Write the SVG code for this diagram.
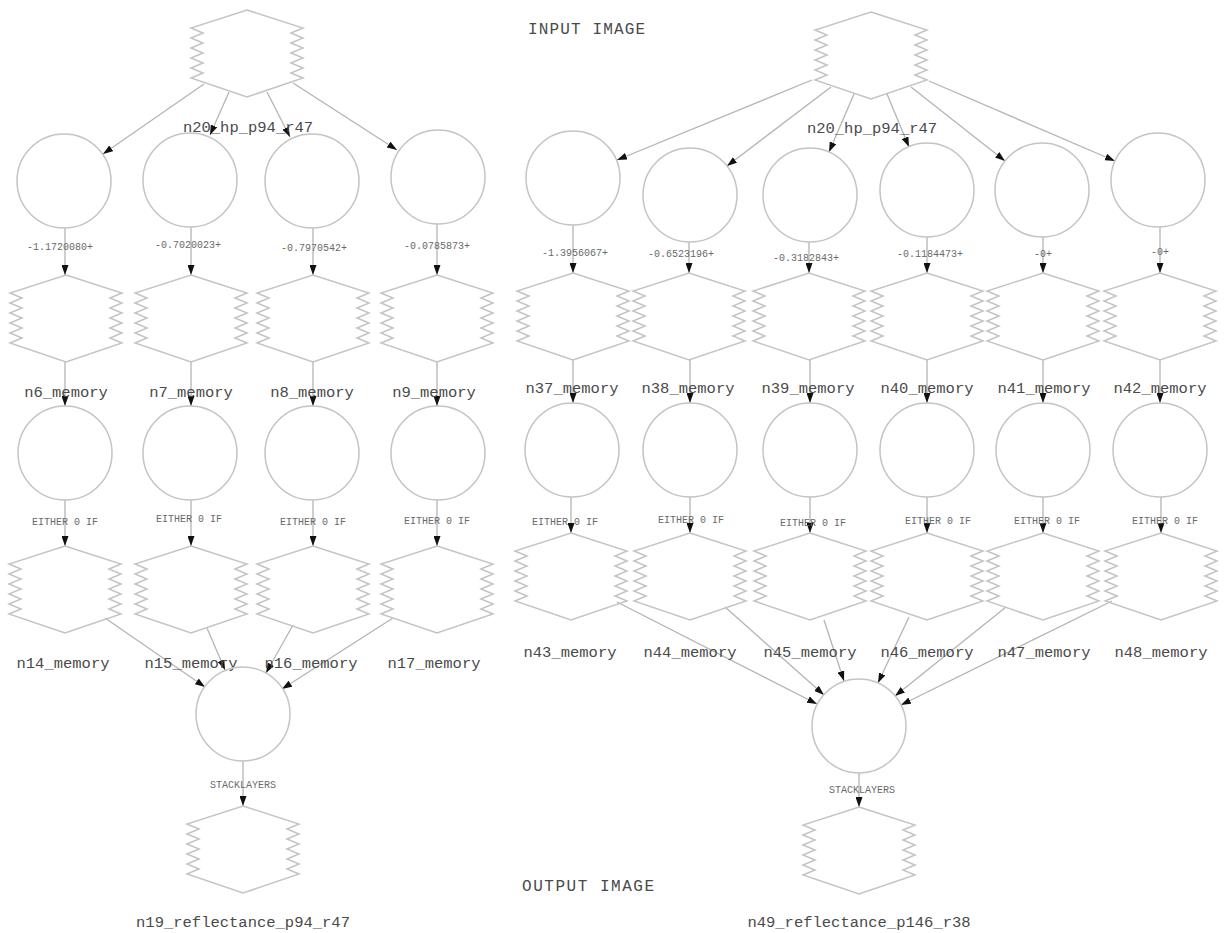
<svg xmlns="http://www.w3.org/2000/svg" xmlns:xlink="http://www.w3.org/1999/xlink" width="1225" height="933" viewBox="0 0 1225 933">
  <style>
    .shape { fill: none; stroke: #c4c4c4; stroke-width: 1.5; }
    .edge { fill: none; stroke: #b4b4b4; stroke-width: 1.3; marker-end: url(#arrow); }
    .lbl { font-family: "Liberation Mono", "Courier New", monospace; font-size: 15.5px; fill: #4a4a4a; text-anchor: middle; }
    .elbl { font-family: "Liberation Mono", "Courier New", monospace; font-size: 10px; fill: #6a6a6a; text-anchor: middle; }
    .title { font-family: "Liberation Mono", "Courier New", monospace; font-size: 16px; fill: #4a4a4a; }
  </style>
  <defs>
    <marker id="arrow" viewBox="0 0 10 7" refX="10" refY="3.5" markerWidth="10" markerHeight="7" markerUnits="userSpaceOnUse" orient="auto">
      <path d="M0,0 L10,3.5 L0,7 z" fill="#111"/>
    </marker>
    <!-- data node: hexagon with zigzag flanks, origin at the top apex -->
    <path id="hex" class="shape" d="M0,0 L56,18 L44,23 L56,28 L44,33 L56,38 L44,43 L56,48 L44,53 L56,58 L44,63 L56,68 L0,87 L-56,68 L-44,63 L-56,58 L-44,53 L-56,48 L-44,43 L-56,38 L-44,33 L-56,28 L-44,23 L-56,18 Z"/>
  </defs>
  <rect width="1225" height="933" fill="#fff"/>

  <text class="title" x="528" y="34" textLength="117" lengthAdjust="spacing">INPUT IMAGE</text>
  <text class="title" x="522" y="891" textLength="132" lengthAdjust="spacing">OUTPUT IMAGE</text>

  <!-- connectors -->
  <g id="connectors">
    <!-- left graph: input fan-out -->
    <line class="edge" x1="204" y1="84" x2="103" y2="154"/>
    <line class="edge" x1="229" y1="92" x2="210" y2="135"/>
    <line class="edge" x1="267" y1="92" x2="290" y2="137"/>
    <line class="edge" x1="293" y1="83" x2="397" y2="150"/>
    <!-- left graph: columns -->
    <line class="edge" x1="65" y1="228" x2="65" y2="275"/>
    <line class="edge" x1="191" y1="227" x2="191" y2="275"/>
    <line class="edge" x1="313" y1="228" x2="313" y2="275"/>
    <line class="edge" x1="437" y1="224" x2="437" y2="275"/>
    <line class="edge" x1="65" y1="362" x2="65" y2="406"/>
    <line class="edge" x1="191" y1="362" x2="191" y2="406"/>
    <line class="edge" x1="313" y1="362" x2="313" y2="406"/>
    <line class="edge" x1="437" y1="362" x2="437" y2="406"/>
    <line class="edge" x1="65" y1="500" x2="65" y2="546"/>
    <line class="edge" x1="191" y1="500" x2="191" y2="546"/>
    <line class="edge" x1="313" y1="500" x2="313" y2="546"/>
    <line class="edge" x1="437" y1="500" x2="437" y2="546"/>
    <!-- left graph: fan-in -->
    <line class="edge" x1="105" y1="618" x2="205" y2="687"/>
    <line class="edge" x1="207" y1="628" x2="225" y2="670"/>
    <line class="edge" x1="293" y1="625" x2="266" y2="673"/>
    <line class="edge" x1="393" y1="618" x2="282" y2="689"/>
    <line class="edge" x1="243" y1="761" x2="243" y2="806"/>

    <!-- right graph: input fan-out -->
    <line class="edge" x1="812" y1="80" x2="617" y2="160"/>
    <line class="edge" x1="831" y1="87" x2="727" y2="166"/>
    <line class="edge" x1="854" y1="94" x2="829" y2="152"/>
    <line class="edge" x1="887" y1="94" x2="909" y2="147"/>
    <line class="edge" x1="911" y1="87" x2="1005" y2="161"/>
    <line class="edge" x1="929" y1="81" x2="1115" y2="161"/>
    <!-- right graph: columns -->
    <line class="edge" x1="573" y1="225" x2="573" y2="273"/>
    <line class="edge" x1="689" y1="242" x2="689" y2="273"/>
    <line class="edge" x1="809" y1="242" x2="809" y2="273"/>
    <line class="edge" x1="927" y1="237" x2="927" y2="273"/>
    <line class="edge" x1="1043" y1="237" x2="1043" y2="273"/>
    <line class="edge" x1="1160" y1="227" x2="1160" y2="273"/>
    <line class="edge" x1="573" y1="360" x2="573" y2="403"/>
    <line class="edge" x1="690" y1="360" x2="690" y2="403"/>
    <line class="edge" x1="810" y1="360" x2="810" y2="403"/>
    <line class="edge" x1="927" y1="360" x2="927" y2="403"/>
    <line class="edge" x1="1043" y1="360" x2="1043" y2="403"/>
    <line class="edge" x1="1160" y1="360" x2="1160" y2="403"/>
    <line class="edge" x1="571" y1="497" x2="571" y2="533"/>
    <line class="edge" x1="690" y1="497" x2="690" y2="533"/>
    <line class="edge" x1="810" y1="497" x2="810" y2="533"/>
    <line class="edge" x1="927" y1="497" x2="927" y2="533"/>
    <line class="edge" x1="1043" y1="497" x2="1043" y2="533"/>
    <line class="edge" x1="1161" y1="497" x2="1161" y2="533"/>
    <!-- right graph: fan-in -->
    <line class="edge" x1="617" y1="602" x2="817" y2="704"/>
    <line class="edge" x1="725" y1="607" x2="824" y2="695"/>
    <line class="edge" x1="824" y1="620" x2="844" y2="681"/>
    <line class="edge" x1="909" y1="617" x2="878" y2="683"/>
    <line class="edge" x1="1006" y1="607" x2="895" y2="696"/>
    <line class="edge" x1="1112" y1="601" x2="901" y2="705"/>
    <line class="edge" x1="859" y1="773" x2="859" y2="807"/>
  </g>

  <!-- edge labels -->
  <g id="edge-labels">
    <text class="elbl" x="60" y="250">-1.1720080+</text>
    <text class="elbl" x="188" y="248">-0.7020023+</text>
    <text class="elbl" x="314" y="251">-0.7970542+</text>
    <text class="elbl" x="437" y="249">-0.0785873+</text>
    <text class="elbl" x="65" y="525">EITHER 0 IF</text>
    <text class="elbl" x="189" y="522">EITHER 0 IF</text>
    <text class="elbl" x="313" y="525">EITHER 0 IF</text>
    <text class="elbl" x="437" y="524">EITHER 0 IF</text>
    <text class="elbl" x="243" y="788">STACKLAYERS</text>

    <text class="elbl" x="575" y="256">-1.3956067+</text>
    <text class="elbl" x="681" y="257">-0.6523196+</text>
    <text class="elbl" x="806" y="261">-0.3182843+</text>
    <text class="elbl" x="930" y="257">-0.1184473+</text>
    <text class="elbl" x="1043" y="257">-0+</text>
    <text class="elbl" x="1160" y="255">-0+</text>
    <text class="elbl" x="565" y="525">EITHER 0 IF</text>
    <text class="elbl" x="691" y="523">EITHER 0 IF</text>
    <text class="elbl" x="813" y="526">EITHER 0 IF</text>
    <text class="elbl" x="938" y="524">EITHER 0 IF</text>
    <text class="elbl" x="1047" y="524">EITHER 0 IF</text>
    <text class="elbl" x="1165" y="524">EITHER 0 IF</text>
    <text class="elbl" x="862" y="793">STACKLAYERS</text>
  </g>

  <!-- left graph nodes -->
  <g id="n20_left"><use xlink:href="#hex" x="247" y="10"/><text class="lbl" x="248" y="132">n20_hp_p94_r47</text></g>
  <g id="c_l1"><circle class="shape" cx="64" cy="181" r="47"/></g>
  <g id="c_l2"><circle class="shape" cx="190" cy="180" r="47"/></g>
  <g id="c_l3"><circle class="shape" cx="312" cy="181" r="47"/></g>
  <g id="c_l4"><circle class="shape" cx="438" cy="177" r="47"/></g>
  <g id="n6_memory"><use xlink:href="#hex" x="66" y="275"/><text class="lbl" x="66" y="397">n6_memory</text></g>
  <g id="n7_memory"><use xlink:href="#hex" x="191" y="275"/><text class="lbl" x="191" y="397">n7_memory</text></g>
  <g id="n8_memory"><use xlink:href="#hex" x="313" y="275"/><text class="lbl" x="312" y="397">n8_memory</text></g>
  <g id="n9_memory"><use xlink:href="#hex" x="437" y="275"/><text class="lbl" x="434" y="397">n9_memory</text></g>
  <g id="c_l5"><circle class="shape" cx="65" cy="453" r="47"/></g>
  <g id="c_l6"><circle class="shape" cx="190" cy="453" r="47"/></g>
  <g id="c_l7"><circle class="shape" cx="312" cy="453" r="47"/></g>
  <g id="c_l8"><circle class="shape" cx="438" cy="453" r="47"/></g>
  <g id="n14_memory"><use xlink:href="#hex" x="65" y="546"/><text class="lbl" x="63" y="668">n14_memory</text></g>
  <g id="n15_memory"><use xlink:href="#hex" x="191" y="546"/><text class="lbl" x="191" y="668">n15_memory</text></g>
  <g id="n16_memory"><use xlink:href="#hex" x="313" y="546"/><text class="lbl" x="311" y="668">n16_memory</text></g>
  <g id="n17_memory"><use xlink:href="#hex" x="437" y="546"/><text class="lbl" x="434" y="668">n17_memory</text></g>
  <g id="c_l9"><circle class="shape" cx="243" cy="714" r="47"/></g>
  <g id="n19_reflectance"><use xlink:href="#hex" x="243" y="806"/><text class="lbl" x="243" y="927">n19_reflectance_p94_r47</text></g>

  <!-- right graph nodes -->
  <g id="n20_right"><use xlink:href="#hex" x="871" y="12"/><text class="lbl" x="872" y="133">n20_hp_p94_r47</text></g>
  <g id="c_r1"><circle class="shape" cx="573" cy="178" r="47"/></g>
  <g id="c_r2"><circle class="shape" cx="690" cy="195" r="47"/></g>
  <g id="c_r3"><circle class="shape" cx="810" cy="195" r="47"/></g>
  <g id="c_r4"><circle class="shape" cx="927" cy="190" r="47"/></g>
  <g id="c_r5"><circle class="shape" cx="1042" cy="190" r="47"/></g>
  <g id="c_r6"><circle class="shape" cx="1158" cy="180" r="47"/></g>
  <g id="n37_memory"><use xlink:href="#hex" x="573" y="273"/><text class="lbl" x="572" y="393">n37_memory</text></g>
  <g id="n38_memory"><use xlink:href="#hex" x="689" y="273"/><text class="lbl" x="688" y="393">n38_memory</text></g>
  <g id="n39_memory"><use xlink:href="#hex" x="809" y="273"/><text class="lbl" x="808" y="393">n39_memory</text></g>
  <g id="n40_memory"><use xlink:href="#hex" x="927" y="273"/><text class="lbl" x="927" y="393">n40_memory</text></g>
  <g id="n41_memory"><use xlink:href="#hex" x="1043" y="273"/><text class="lbl" x="1044" y="393">n41_memory</text></g>
  <g id="n42_memory"><use xlink:href="#hex" x="1160" y="273"/><text class="lbl" x="1160" y="393">n42_memory</text></g>
  <g id="c_r7"><circle class="shape" cx="572" cy="450" r="47"/></g>
  <g id="c_r8"><circle class="shape" cx="690" cy="450" r="47"/></g>
  <g id="c_r9"><circle class="shape" cx="810" cy="450" r="47"/></g>
  <g id="c_r10"><circle class="shape" cx="927" cy="450" r="47"/></g>
  <g id="c_r11"><circle class="shape" cx="1043" cy="450" r="47"/></g>
  <g id="c_r12"><circle class="shape" cx="1160" cy="450" r="47"/></g>
  <g id="n43_memory"><use xlink:href="#hex" x="571" y="533"/><text class="lbl" x="570" y="657">n43_memory</text></g>
  <g id="n44_memory"><use xlink:href="#hex" x="690" y="533"/><text class="lbl" x="690" y="657">n44_memory</text></g>
  <g id="n45_memory"><use xlink:href="#hex" x="810" y="533"/><text class="lbl" x="810" y="657">n45_memory</text></g>
  <g id="n46_memory"><use xlink:href="#hex" x="927" y="533"/><text class="lbl" x="927" y="657">n46_memory</text></g>
  <g id="n47_memory"><use xlink:href="#hex" x="1043" y="533"/><text class="lbl" x="1044" y="657">n47_memory</text></g>
  <g id="n48_memory"><use xlink:href="#hex" x="1161" y="533"/><text class="lbl" x="1161" y="657">n48_memory</text></g>
  <g id="c_r13"><circle class="shape" cx="859" cy="726" r="47"/></g>
  <g id="n49_reflectance"><use xlink:href="#hex" x="859" y="807"/><text class="lbl" x="859" y="927">n49_reflectance_p146_r38</text></g>
</svg>
